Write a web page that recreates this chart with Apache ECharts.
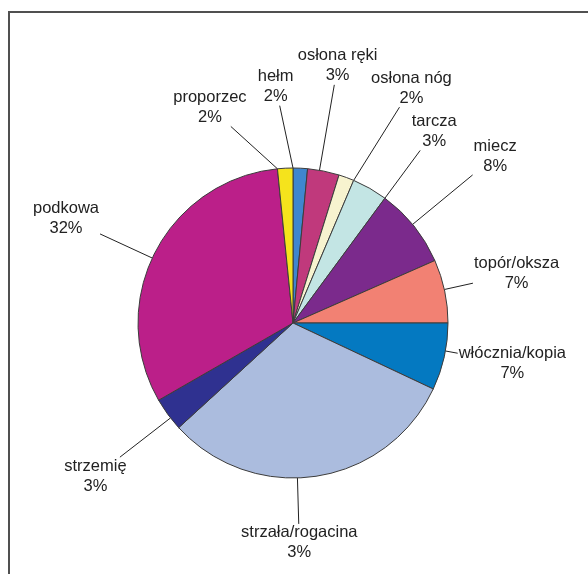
<!DOCTYPE html>
<html>
<head>
<meta charset="utf-8">
<script src="https://cdn.jsdelivr.net/npm/echarts@6/dist/echarts.min.js"></script>
<style>
html,body{margin:0;padding:0;background:#fff;}
#chart{width:588px;height:574px;}
</style>
</head>
<body>
<div id="chart"></div>
<script>
// Categories in drawing order (clockwise from 12 o'clock)
var categories = ['hełm','osłona ręki','osłona nóg','tarcza','miecz','topór/oksza','włócznia/kopia','strzała/rogacina','strzemię','podkowa','proporzec'];
// Slice shares (percent)
var values = [1.5, 3.3, 1.6, 3.7, 8.3, 6.6, 7.0, 31.2, 3.5, 31.7, 1.6];
// Percentage labels as printed in the original
var pctLabels = ['2%','3%','2%','3%','8%','7%','7%','3%','3%','32%','2%'];
var colors = ['#3f86cf','#c0397c','#f7f3cf','#c3e5e4','#7b2a8c','#f28173','#0479c1','#abbcde','#2f3190','#bb1f89','#f5e31c'];

// Label placement (style): distance of the label centre from the pie centre, and angular tilt from slice middle (deg)
var labelDist = [237, 261, 263, 238, 262, 229, 223, 220, 250, 250, 231];
var labelTilt = [-6.9, -1.5, 6.6, 6.7, -0.8, -0.6, -2.2, 7.0, -1.6, -2.4, -18.2];

var CX = 293, CY = 323, R = 155;
var FONT = 'Liberation Sans, Arial, sans-serif';

// slice angle ranges (degrees clockwise from 12 o'clock), derived from values
var total = values.reduce(function(a,b){return a+b;},0);
var ranges = []; var acc = 0;
values.forEach(function(v){ var a0 = acc/total*360; acc += v; ranges.push([a0, acc/total*360]); });

function pt(angDeg, r){ var a = angDeg*Math.PI/180; return [CX + r*Math.sin(a), CY - r*Math.cos(a)]; }
function norm(a){ while(a<0) a+=360; while(a>=360) a-=360; return a; }

var chart = echarts.init(document.getElementById('chart'), null, {renderer:'canvas'});
var data = categories.map(function(c,i){
  return {name:c, value:values[i], itemStyle:{color:colors[i]}};
});
chart.setOption({
  animation:false,
  backgroundColor:'#ffffff',
  graphic:[{
    type:'rect', shape:{x:9,y:12,width:620,height:620},
    style:{fill:null, stroke:'#505050', lineWidth:2}, silent:true, z:-1
  }],
  series:[{
    type:'pie',
    center:[CX,CY],
    radius:R,
    startAngle:90,
    clockwise:true,
    avoidLabelOverlap:false,
    data:data,
    itemStyle:{borderColor:'#3c3c3c', borderWidth:1},
    label:{
      show:true,
      position:'outside',
      fontFamily:FONT,
      fontSize:16.5,
      color:'#222',
      lineHeight:20,
      formatter:function(p){ return '{c|' + p.name + '}\n{c|' + pctLabels[p.dataIndex] + '}'; },
      rich:{c:{align:'center', fontSize:16.5, lineHeight:20, color:'#222', fontFamily:FONT}}
    },
    labelLine:{
      show:true, length:20, length2:0, smooth:false,
      lineStyle:{color:'#222', width:1}
    },
    labelLayout:function(p){
      var i = p.dataIndex;
      var rg = ranges[i];
      var mid = (rg[0]+rg[1])/2;
      var la = mid + labelTilt[i];
      var C = pt(la, labelDist[i]);
      // leader start: point of the slice arc closest to the label direction
      var a = norm(la);
      var s0 = rg[0], s1 = rg[1];
      var inside = (a >= s0 && a <= s1);
      var sa;
      if (inside) sa = a;
      else {
        var d0 = Math.min(Math.abs(norm(a - s0)), 360-Math.abs(norm(a - s0)));
        var d1 = Math.min(Math.abs(norm(a - s1)), 360-Math.abs(norm(a - s1)));
        sa = d0 < d1 ? s0 : s1;
      }
      var S = pt(sa, R);
      var hw = p.labelRect.width/2 + 1, hh = p.labelRect.height/2 - 1;
      var dx = S[0]-C[0], dy = S[1]-C[1];
      var k = Math.min(dx!==0 ? hw/Math.abs(dx) : 1e9, dy!==0 ? hh/Math.abs(dy) : 1e9);
      var E = [C[0]+dx*k, C[1]+dy*k];
      return {x:C[0], y:C[1], align:'center', verticalAlign:'middle', labelLinePoints:[S, E, E]};
    }
  }]
});
</script>
</body>
</html>
